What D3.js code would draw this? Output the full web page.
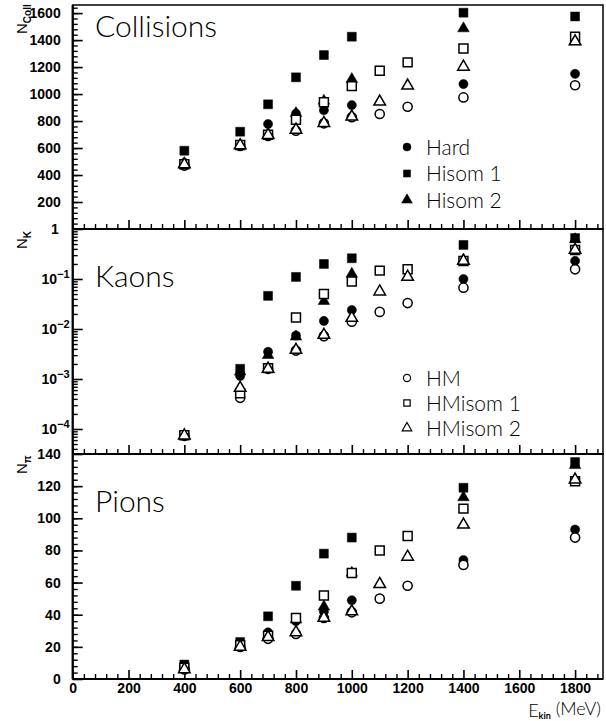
<!DOCTYPE html>
<html lang="en">
<head>
<meta charset="UTF-8">
<title>Collisions, Kaons, Pions</title>
<script src="https://cdn.jsdelivr.net/npm/d3@7"></script>
<style>
  body { margin: 0; background: #fff; }
  .tick text { font-family: "Liberation Sans", Arial, sans-serif; font-weight: bold; font-size: 14px; fill: #000; }
  .thin { font-family: "Lato", "DejaVu Sans", sans-serif; font-weight: 300; fill: #000; }
</style>
</head>
<body>
<svg width="606" height="721"></svg>
<script>
// energies (MeV)
var eFilled = [400, 600, 700, 800, 900, 1000, 1400, 1800];
var eOpen = [400, 600, 700, 800, 900, 1000, 1100, 1200, 1400, 1800];

// collisions
var collHard   = [490, 625, 778, 855, 880, 918, 1074, 1150];
var collHisom1 = [580, 721, 924, 1124, 1289, 1425, 1603, 1575];
var collHisom2 = [485, 620, 700, 858, 950, 1110, 1486, 1390];
var collHM      = [470, 615, 690, 728, 783, 828, 852, 906, 975, 1065];
var collHMisom1 = [480, 622, 698, 810, 940, 1059, 1173, 1235, 1338, 1425];
var collHMisom2 = [478, 620, 696, 735, 785, 832, 943, 1062, 1202, 1390];

// kaons
var kHard   = [7.5e-5, 1.15e-3, 3.5e-3, 7.4e-3, 0.0145, 0.024, 0.1, 0.23];
var kHisom1 = [7.6e-5, 1.6e-3, 0.046, 0.11, 0.2, 0.26, 0.48, 0.66];
var kHisom2 = [7.4e-5, 1.4e-3, 3.0e-3, 7.0e-3, 0.036, 0.126, 0.24, 0.62];
var kHM      = [7.3e-5, 4.2e-4, 1.6e-3, 3.7e-3, 7.2e-3, 0.014, 0.022, 0.033, 0.067, 0.156];
var kHMisom1 = [7.5e-5, 5.2e-4, 1.65e-3, 0.017, 0.05, 0.089, 0.147, 0.156, 0.23, 0.38];
var kHMisom2 = [7.4e-5, 6.6e-4, 1.6e-3, 3.8e-3, 7.6e-3, 0.0166, 0.056, 0.11, 0.23, 0.38];

// pions
var pHard   = [7, 21, 29, 36, 42, 49, 74, 93];
var pHisom1 = [9, 23, 39, 58, 78, 88, 119, 135];
var pHisom2 = [7, 21, 27, 37, 45, 66, 113, 133];
var pHM      = [6, 20, 25, 28, 38, 41.5, 50, 58, 71, 88];
var pHMisom1 = [7, 21, 27, 38, 52, 66, 80, 89, 106, 123];
var pHMisom2 = [6, 20, 26, 29, 38, 42, 59, 76, 96, 124];

var xTicks = [0, 200, 400, 600, 800, 1000, 1200, 1400, 1600, 1800];
var legendFilled = ["Hard", "Hisom 1", "Hisom 2"];
var legendOpen = ["HM", "HMisom 1", "HMisom 2"];

var svg = d3.select("svg");
var x = d3.scaleLinear().domain([0, 1900]).range([72.7, 603]);
var left = 72.7, right = 603;

var panels = [
  { name: "Collisions", y: d3.scaleLinear().domain([0, 1660]).range([229, 5]),
    major: [200, 400, 600, 800, 1000, 1200, 1400, 1600], minor: d3.range(40, 1660, 40),
    series: [collHard, collHisom1, collHisom2, collHM, collHMisom1, collHMisom2],
    ylab: "N", sub: "Coll", ylabY: 34 },
  { name: "Kaons", y: d3.scaleLog().domain([Math.pow(10, -4.5), 1]).range([454, 229]),
    major: [1e-4, 1e-3, 1e-2, 1e-1, 1], minor: [],
    series: [kHard, kHisom1, kHisom2, kHM, kHMisom1, kHMisom2],
    ylab: "N", sub: "K", ylabY: 249 },
  { name: "Pions", y: d3.scaleLinear().domain([0, 140]).range([679, 454]),
    major: [0, 20, 40, 60, 80, 100, 120, 140], minor: d3.range(4, 140, 4),
    series: [pHard, pHisom1, pHisom2, pHM, pHMisom1, pHMisom2],
    ylab: "N", sub: "\u03c0", ylabY: 474 }
];
// log minor ticks for kaons
[-5, -4, -3, -2, -1].forEach(function (e) {
  for (var k = 2; k <= 9; k++) {
    var v = k * Math.pow(10, e);
    if (v > Math.pow(10, -4.5) && v < 1) panels[1].minor.push(v);
  }
});

var shapes = [d3.symbolCircle, d3.symbolSquare, d3.symbolTriangle];
var sizes = [66, 80, 58];

panels.forEach(function (p, pi) {
  var y = p.y;
  var top = y.range()[1], bottom = y.range()[0];
  var g = svg.append("g");

  // minor y ticks
  g.append("g").attr("transform", "translate(" + left + ",0)")
    .call(d3.axisLeft(y).tickValues(p.minor).tickSize(-5).tickFormat(""))
    .call(function (s) { s.select(".domain").remove(); s.selectAll("line").attr("stroke-width", 1.4); });

  // major y ticks
  var ya = g.append("g").attr("transform", "translate(" + left + ",0)")
    .call(d3.axisLeft(y).tickValues(p.major).tickSize(-10).tickPadding(12)
      .tickFormat(function (d) { return pi == 1 ? "" : d; }))
    .call(function (s) { s.select(".domain").remove(); s.selectAll("line").attr("stroke-width", 1.6); });
  if (pi == 1) {
    ya.selectAll(".tick text").each(function (d) {
      var t = d3.select(this).attr("x", -14);
      if (d == 1) { t.text("1"); return; }
      var e = Math.round(Math.log10(d));
      t.text("10");
      t.append("tspan").attr("dy", "-0.5em").style("font-size", "11px").text("\u2212" + (-e));
      t.attr("x", -3);
    });
  }

  // x ticks
  g.append("g").attr("transform", "translate(0," + bottom + ")")
    .call(d3.axisBottom(x).tickValues(d3.range(40, 1900, 40).filter(function (d) { return d % 200 != 0; })).tickSize(-5).tickFormat(""))
    .call(function (s) { s.select(".domain").remove(); s.selectAll("line").attr("stroke-width", 1.4); });
  g.append("g").attr("transform", "translate(0," + bottom + ")")
    .call(d3.axisBottom(x).tickValues(xTicks).tickSize(-9).tickPadding(4)
      .tickFormat(function (d) { return pi == 2 ? d : ""; }))
    .call(function (s) { s.select(".domain").remove(); s.selectAll("line").attr("stroke-width", 1.6); });

  // frame
  g.append("rect").attr("x", left).attr("y", top).attr("width", right - left).attr("height", bottom - top)
    .attr("fill", "none").attr("stroke", "#000").attr("stroke-width", 1.5);
  g.append("line").attr("x1", left).attr("x2", left).attr("y1", top).attr("y2", bottom)
    .attr("stroke", "#000").attr("stroke-width", 2.2);
  g.append("line").attr("x1", left).attr("x2", right).attr("y1", bottom).attr("y2", bottom)
    .attr("stroke", "#000").attr("stroke-width", 2.2);

  // panel title
  g.append("text").attr("class", "thin").attr("x", 95).attr("y", top + (pi == 0 ? 32 : 58))
    .style("font-size", "30px").text(p.name);

  // y label
  var yl = g.append("text").attr("transform", "translate(27," + p.ylabY + ") rotate(-90)")
    .style("font-family", "Liberation Sans, Arial, sans-serif").style("font-size", "15px");
  yl.append("tspan").text(p.ylab);
  yl.append("tspan").attr("dy", "0.35em").style("font-size", "10px").style("font-weight", "bold").text(p.sub);

  // points: filled first, open (white filled) on top
  p.series.forEach(function (vals, si) {
    var filled = si < 3;
    var es = filled ? eFilled : eOpen;
    var sym = d3.symbol().type(shapes[si % 3]).size(sizes[si % 3]);
    g.append("g").selectAll("path").data(vals).enter().append("path")
      .attr("transform", function (d, i) { return "translate(" + x(es[i]) + "," + y(d) + ")"; })
      .attr("d", sym)
      .attr("fill", filled ? "#000" : "#fff")
      .attr("stroke", "#000").attr("stroke-width", filled ? 0.5 : 1.5);
  });
});

// legends
function legend(names, y0, dy, filled) {
  names.forEach(function (n, i) {
    var yy = y0 + i * dy;
    svg.append("path").attr("transform", "translate(407," + yy + ")")
      .attr("d", d3.symbol().type(shapes[i]).size(filled ? 50 : 40))
      .attr("fill", filled ? "#000" : "#fff").attr("stroke", "#000").attr("stroke-width", filled ? 0.5 : 1.2);
    svg.append("text").attr("class", "thin").attr("x", 426).attr("y", yy + 7.5)
      .style("font-size", "21px").text(n);
  });
}
legend(legendFilled, 147, 26.5, true);
legend(legendOpen, 378, 25, false);

// x axis title
var xt = svg.append("text").attr("class", "thin").attr("x", 601).attr("y", 717)
  .attr("text-anchor", "end").style("font-size", "18px");
xt.append("tspan").text("E");
xt.append("tspan").attr("dy", "0.25em").style("font-size", "9px").style("font-weight", "bold").text("kin");
xt.append("tspan").attr("dy", "-0.25em").text(" (MeV)");
</script>
</body>
</html>
